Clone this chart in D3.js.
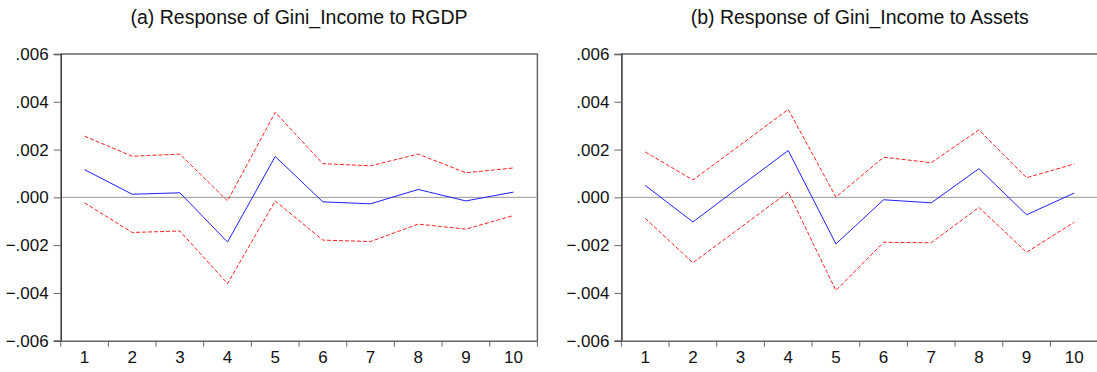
<!DOCTYPE html>
<html>
<head>
<meta charset="utf-8">
<script src="https://cdn.jsdelivr.net/npm/d3@7.9.0/dist/d3.min.js"></script>
<style>
  body { margin: 0; background: #fff; }
  svg { display: block; font-family: "Liberation Sans", Arial, sans-serif; }
  .tick text { font-size: 17px; fill: #111; }
</style>
</head>
<body>
<svg id="chart" width="1097" height="372"></svg>
<script>
const periods = [1, 2, 3, 4, 5, 6, 7, 8, 9, 10];
const yTicks = [-0.006, -0.004, -0.002, 0, 0.002, 0.004, 0.006];

// (a) response to RGDP
const rgdpResp  = [0.00116, 0.00013, 0.00019, -0.00187, 0.00171, -0.00019, -0.00027, 0.00033, -0.00015, 0.00022];
const rgdpUpper = [0.00256, 0.00172, 0.00181, -0.00015, 0.00356, 0.00141, 0.00132, 0.00181, 0.00103, 0.00123];
const rgdpLower = [-0.00023, -0.00147, -0.00141, -0.00361, -0.00015, -0.00179, -0.00185, -0.00112, -0.00133, -0.00076];

// (b) response to Assets
const assetResp  = [0.00050, -0.00103, 0.00047, 0.00196, -0.00195, -0.00010, -0.00023, 0.00120, -0.00073, 0.00018];
const assetUpper = [0.00190, 0.00073, 0.00220, 0.00368, 0.00001, 0.00168, 0.00145, 0.00282, 0.00082, 0.00140];
const assetLower = [-0.00088, -0.00274, -0.00126, 0.00022, -0.00390, -0.00188, -0.00190, -0.00042, -0.00230, -0.00104];

const panels = [
  { title: '(a) Response of Gini_Income to RGDP', left: 60.7, resp: rgdpResp, upper: rgdpUpper, lower: rgdpLower },
  { title: '(b) Response of Gini_Income to Assets', left: 621.4, resp: assetResp, upper: assetUpper, lower: assetLower }
];

const plotW = 476.7, plotTop = 54, plotBottom = 340.7;
const svg = d3.select('#chart');
const fmt = d => d3.format('.3f')(d).replace('0.', '.');
const fontFam = '"Liberation Sans", Arial, sans-serif';

panels.forEach(p => {
  const x = d3.scaleBand().domain(periods).range([p.left, p.left + plotW]);
  const y = d3.scaleLinear().domain([-0.006, 0.006]).range([plotBottom, plotTop]);
  const g = svg.append('g');

  g.append('text')
    .attr('x', p.left + plotW / 2)
    .attr('y', 24)
    .attr('text-anchor', 'middle')
    .style('font-size', '19.5px')
    .attr('fill', '#111')
    .text(p.title);

  // frame top/right
  g.append('path')
    .attr('d', `M${p.left},${plotTop}H${p.left + plotW}V${plotBottom}`)
    .attr('fill', 'none')
    .attr('stroke', '#666')
    .attr('stroke-width', 1.5);

  // zero line
  g.append('line')
    .attr('x1', p.left).attr('x2', p.left + plotW)
    .attr('y1', y(0)).attr('y2', y(0))
    .attr('stroke', '#999').attr('stroke-width', 1);

  // y axis
  const ya = g.append('g')
    .attr('transform', `translate(${p.left},0)`)
    .attr('font-family', fontFam)
    .call(d3.axisLeft(y).tickValues(yTicks).tickFormat(fmt).tickSize(7).tickPadding(5));
  ya.select('.domain').attr('stroke', '#333').attr('stroke-width', 1.5);
  ya.selectAll('.tick line').attr('stroke', '#666');

  // x axis: labels centred in bands, ticks at band edges
  const xa = g.append('g')
    .attr('transform', `translate(0,${plotBottom})`)
    .call(d3.axisBottom(x).tickSize(0).tickPadding(10));
  xa.select('.domain').attr('stroke', '#666').attr('stroke-width', 1.5);
  const edges = periods.map(d => x(d)).concat([x(periods[periods.length - 1]) + x.bandwidth()]);
  xa.selectAll('.edge')
    .data(edges)
    .enter().append('line')
    .attr('class', 'edge')
    .attr('x1', d => d).attr('x2', d => d)
    .attr('y1', 0).attr('y2', 6)
    .attr('stroke', '#666');

  svg.selectAll('.tick text').attr('font-family', fontFam);

  const line = d3.line()
    .x((d, i) => x(periods[i]) + x.bandwidth() / 2)
    .y(d => y(d));

  [p.upper, p.lower].forEach(band => {
    g.append('path')
      .datum(band)
      .attr('d', line)
      .attr('fill', 'none')
      .attr('stroke', '#ff2020')
      .attr('stroke-width', 1)
      .attr('stroke-dasharray', '4,2');
  });

  g.append('path')
    .datum(p.resp)
    .attr('d', line)
    .attr('fill', 'none')
    .attr('stroke', '#2020ff')
    .attr('stroke-width', 1);
});
</script>
</body>
</html>
